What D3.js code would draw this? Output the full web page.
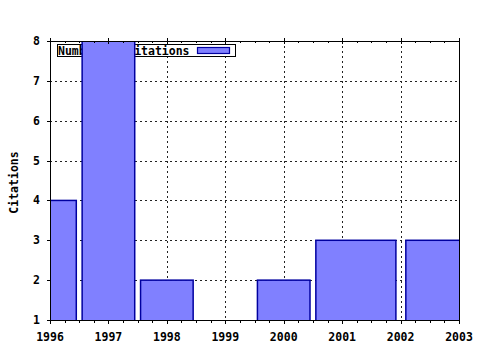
<!DOCTYPE html>
<html>
<head>
<meta charset="utf-8">
<script src="https://cdn.jsdelivr.net/npm/d3@7"></script>
<style>
  body { margin: 0; background: #fff; }
  text { font-family: "DejaVu Sans Mono", monospace; font-weight: bold; font-size: 11.5px; fill: #000; }
</style>
</head>
<body>
<div id="graph"></div>
<script>
// data
const years = [1996, 1997, 1998, 2000, 2001, 2002];
const citations = [4, 8, 2, 2, 3, 3];
// box extents in years (gnuplot style boxes, not all the same width)
const boxFrom = [1995.55, 1996.55, 1997.55, 1999.55, 2000.55, 2002.09];
const boxTo = [1996.45, 1997.45, 1998.45, 2000.45, 2001.92, 2003.1];
const xTicks = [1996, 1997, 1998, 1999, 2000, 2001, 2002, 2003];
const yTicks = [1, 2, 3, 4, 5, 6, 7, 8];
const seriesName = "Number of citations";
const yTitle = "Citations";

const W = 480, H = 350;
const pLeft = 50, pRight = 459, pTop = 41, pBottom = 320;

const x = d3.scaleLinear().domain([1996, 2003]).range([pLeft, pRight]);
const y = d3.scaleLinear().domain([1, 8]).range([pBottom, pTop]);

const svg = d3.select("#graph").append("svg")
    .attr("width", W)
    .attr("height", H);

svg.append("defs").append("clipPath").attr("id", "plot")
    .append("rect")
    .attr("x", pLeft).attr("y", pTop)
    .attr("width", pRight - pLeft).attr("height", pBottom - pTop);

// grid
const grid = svg.append("g")
    .attr("stroke", "#222")
    .attr("stroke-width", 1)
    .attr("stroke-dasharray", "2,3");

grid.selectAll("line.gx")
    .data(xTicks.slice(1, -1))
    .enter().append("line")
    .attr("class", "gx")
    .attr("x1", d => Math.round(x(d)) + 0.5)
    .attr("x2", d => Math.round(x(d)) + 0.5)
    .attr("y1", pTop)
    .attr("y2", pBottom);

grid.selectAll("line.gy")
    .data(yTicks.slice(1, -1))
    .enter().append("line")
    .attr("class", "gy")
    .attr("x1", pLeft)
    .attr("x2", pRight)
    .attr("y1", d => Math.round(y(d)) + 0.5)
    .attr("y2", d => Math.round(y(d)) + 0.5);

// legend (drawn before the bars, the tall bar covers it)
const lg = svg.append("g");
lg.append("rect")
    .attr("x", 57.5).attr("y", 44.5)
    .attr("width", 178).attr("height", 12)
    .attr("fill", "#fff")
    .attr("stroke", "#000");
lg.append("text")
    .attr("x", 58)
    .attr("y", 54.5)
    .text(seriesName);
lg.append("rect")
    .attr("x", 197.5).attr("y", 47.5)
    .attr("width", 32).attr("height", 6)
    .attr("fill", "#8080ff")
    .attr("stroke", "#0000a0")
    .attr("stroke-width", 1.2);

// bars
const bars = svg.append("g").attr("clip-path", "url(#plot)");
bars.selectAll("rect")
    .data(years.map((yr, i) => ({ yr: yr, v: citations[i], a: boxFrom[i], b: boxTo[i] })))
    .enter().append("rect")
    .attr("x", d => x(d.a))
    .attr("y", d => y(d.v))
    .attr("width", d => x(d.b) - x(d.a))
    .attr("height", d => y(1) - y(d.v) + 2)
    .attr("fill", "#8080ff")
    .attr("stroke", "#0000a0")
    .attr("stroke-width", 1.5);

// border
svg.append("rect")
    .attr("x", pLeft + 0.5).attr("y", pTop + 0.5)
    .attr("width", pRight - pLeft).attr("height", pBottom - pTop)
    .attr("fill", "none")
    .attr("stroke", "#000");

// ticks: bottom and top, majors and quarter-year minors
const minor = d3.range(1996, 2003.001, 0.25);
const tk = svg.append("g").attr("stroke", "#000");
tk.selectAll("line.bt")
    .data(minor)
    .enter().append("line")
    .attr("class", "bt")
    .attr("x1", d => Math.round(x(d)) + 0.5)
    .attr("x2", d => Math.round(x(d)) + 0.5)
    .attr("y1", pBottom)
    .attr("y2", d => pBottom + (Number.isInteger(d) ? 4 : 3));
tk.selectAll("line.tt")
    .data(minor)
    .enter().append("line")
    .attr("class", "tt")
    .attr("x1", d => Math.round(x(d)) + 0.5)
    .attr("x2", d => Math.round(x(d)) + 0.5)
    .attr("y1", d => pTop - (Number.isInteger(d) ? 3 : 0))
    .attr("y2", d => pTop + (Number.isInteger(d) ? 3 : 2));
tk.selectAll("line.lt")
    .data(yTicks)
    .enter().append("line")
    .attr("class", "lt")
    .attr("x1", pLeft - 3)
    .attr("x2", pLeft)
    .attr("y1", d => Math.round(y(d)) + 0.5)
    .attr("y2", d => Math.round(y(d)) + 0.5);

// tick labels
svg.append("g").selectAll("text")
    .data(xTicks)
    .enter().append("text")
    .attr("x", d => x(d))
    .attr("y", 341)
    .attr("text-anchor", "middle")
    .text(d => d);

svg.append("g").selectAll("text")
    .data(yTicks)
    .enter().append("text")
    .attr("x", 40)
    .attr("y", d => y(d) + 4)
    .attr("text-anchor", "end")
    .text(d => d);

svg.append("text")
    .attr("transform", "translate(18," + ((pTop + pBottom) / 2 + 2) + ") rotate(-90)")
    .attr("text-anchor", "middle")
    .text(yTitle);
</script>
</body>
</html>
